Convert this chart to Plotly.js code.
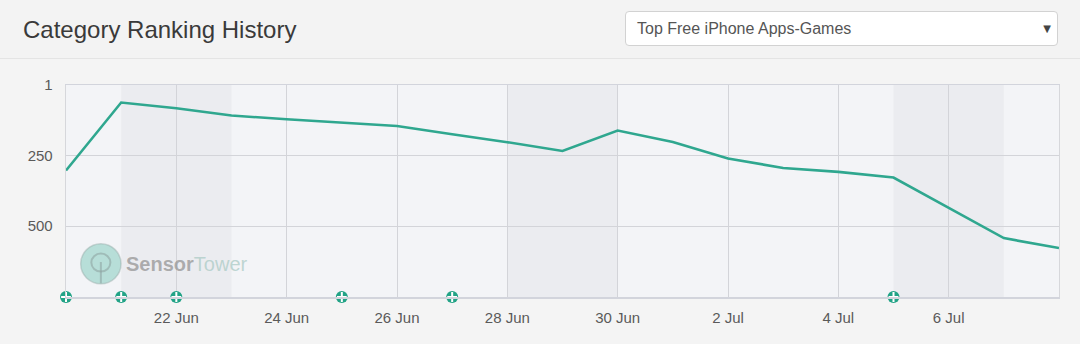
<!DOCTYPE html>
<html>
<head>
<meta charset="utf-8">
<script src="https://cdn.plot.ly/plotly-3.0.1.min.js"></script>
<style>
  html, body { margin:0; padding:0; background:#f4f4f4; width:1080px; height:344px; overflow:hidden; }
  #chart { position:absolute; left:0; top:0; width:1080px; height:344px; }
  #header { position:absolute; left:0; top:0; width:1080px; height:58px; border-bottom:1px solid #e4e4e4; background:#f3f3f3; z-index:1; }
  #title { position:absolute; left:23px; top:16px; font-family:"Liberation Sans", Arial, sans-serif; font-size:24px; color:#3a3a3a; }
  #select { position:absolute; left:625px; top:11px; width:433px; height:35px; background:#fff; border:1px solid #d2d2d2; border-radius:4px; box-sizing:border-box; }
  #select .txt { position:absolute; left:11px; top:8px; font-family:"Liberation Sans", Arial, sans-serif; font-size:16px; color:#555; }
  #select .arr { position:absolute; right:6px; top:11px; font-family:"DejaVu Sans", sans-serif; font-size:10px; color:#444; }
</style>
</head>
<body>
<div id="chart"></div>
<div id="header">
  <div id="title">Category Ranking History</div>
  <div id="select"><span class="txt">Top Free iPhone Apps-Games</span><span class="arr">&#9660;</span></div>
</div>
<script>
// ---- data ----
var dates = ['2018-06-20','2018-06-21','2018-06-22','2018-06-23','2018-06-24','2018-06-25','2018-06-26',
             '2018-06-27','2018-06-28','2018-06-29','2018-06-30','2018-07-01','2018-07-02','2018-07-03',
             '2018-07-04','2018-07-05','2018-07-06','2018-07-07','2018-07-08'];
var ranks = [303, 63, 83, 109, 122, 134, 146, 175, 203, 234, 162, 202, 261, 294, 308, 328, 436, 542, 577];
var eventDates = ['2018-06-20','2018-06-21','2018-06-22','2018-06-25','2018-06-27','2018-07-05'];
var bandStarts = ['2018-06-21','2018-06-28','2018-07-05'];
var bandEnds   = ['2018-06-23','2018-06-30','2018-07-07'];
var xTickVals  = ['2018-06-22','2018-06-24','2018-06-26','2018-06-28','2018-06-30','2018-07-02','2018-07-04','2018-07-06'];
var xTickText  = ['22 Jun','24 Jun','26 Jun','28 Jun','30 Jun','2 Jul','4 Jul','6 Jul'];
var yTickVals  = [1, 250, 500];
var yTickText  = ['1', '250', '500'];
var yMaxRank = 750;
var xStart = '2018-06-20', xEnd = '2018-07-08';

// ---- traces ----
var lineTrace = {
  x: dates, y: ranks, type: 'scatter', mode: 'lines',
  line: { color: '#2fa78f', width: 2.6 }, hoverinfo: 'x+y', showlegend: false
};
var evY = eventDates.map(function(){ return yMaxRank; });
var evCircle = {
  x: eventDates, y: evY, type: 'scatter', mode: 'markers', cliponaxis: false,
  marker: { symbol: 'circle', size: 12, color: '#22a386', line: { width: 0 } },
  showlegend: false, hoverinfo: 'x'
};
var evPlus = {
  x: eventDates, y: evY, type: 'scatter', mode: 'markers', cliponaxis: false,
  marker: { symbol: 'cross-thin-open', size: 7, color: '#ffffff', line: { width: 2, color: '#ffffff' } },
  showlegend: false, hoverinfo: 'skip'
};

// ---- shapes ----
var shapes = bandStarts.map(function(s, i){
  return { type: 'rect', xref: 'x', yref: 'paper', x0: s, x1: bandEnds[i], y0: 0, y1: 1,
           fillcolor: 'rgba(0,0,20,0.032)', line: { width: 0 }, layer: 'below' };
});
// watermark logo
shapes.push({ type: 'circle', xref: 'paper', yref: 'paper', x0: 0.0148, x1: 0.0554, y0: 0.062, y1: 0.251,
  fillcolor: 'rgba(110,195,178,0.45)', line: { color: 'rgba(150,170,168,0.45)', width: 1.5 }, layer: 'below' });
shapes.push({ type: 'circle', xref: 'paper', yref: 'paper', x0: 0.0255, x1: 0.0447, y0: 0.12, y1: 0.205,
  fillcolor: 'rgba(0,0,0,0)', line: { color: 'rgba(140,160,158,0.55)', width: 2 }, layer: 'below' });
shapes.push({ type: 'line', xref: 'paper', yref: 'paper', x0: 0.0351, x1: 0.0351, y0: 0.065, y1: 0.165,
  line: { color: 'rgba(140,160,158,0.55)', width: 2 }, layer: 'below' });

var layout = {
  width: 1080, height: 344,
  margin: { l: 66, r: 21, t: 85, b: 47, pad: 0 },
  paper_bgcolor: '#f4f4f4',
  plot_bgcolor: '#f3f4f7',
  font: { family: '"Liberation Sans", Arial, sans-serif', size: 15, color: '#555' },
  xaxis: {
    type: 'date', range: [xStart, xEnd],
    tickvals: xTickVals, ticktext: xTickText,
    showgrid: true, gridcolor: '#d3d4d9', gridwidth: 1,
    showline: true, linecolor: '#d2d4dc', linewidth: 1.5, mirror: true,
    ticks: 'outside', ticklen: 6, tickcolor: 'rgba(0,0,0,0)',
    tickfont: { size: 15, color: '#5a5a5a' },
    zeroline: false, fixedrange: true
  },
  yaxis: {
    range: [yMaxRank, 1],
    tickvals: yTickVals, ticktext: yTickText,
    showgrid: true, gridcolor: '#d3d4d9', gridwidth: 1,
    showline: true, linecolor: '#d6d7db', linewidth: 1.3, mirror: true,
    ticks: 'outside', ticklen: 9, tickcolor: 'rgba(0,0,0,0)',
    tickfont: { size: 15, color: '#5a5a5a' },
    zeroline: false, fixedrange: true
  },
  shapes: shapes,
  annotations: [{
    xref: 'paper', yref: 'paper', x: 0.058, y: 0.157, xanchor: 'left', yanchor: 'middle',
    showarrow: false,
    text: '<b><span style="color:rgba(150,150,150,0.75)">Sensor</span></b><span style="color:rgba(175,205,200,0.8)">Tower</span>',
    font: { size: 20, family: '"Liberation Sans", Arial, sans-serif' }
  }]
};

Plotly.newPlot('chart', [lineTrace, evCircle, evPlus], layout, { displayModeBar: false, staticPlot: true });
</script>
</body>
</html>
